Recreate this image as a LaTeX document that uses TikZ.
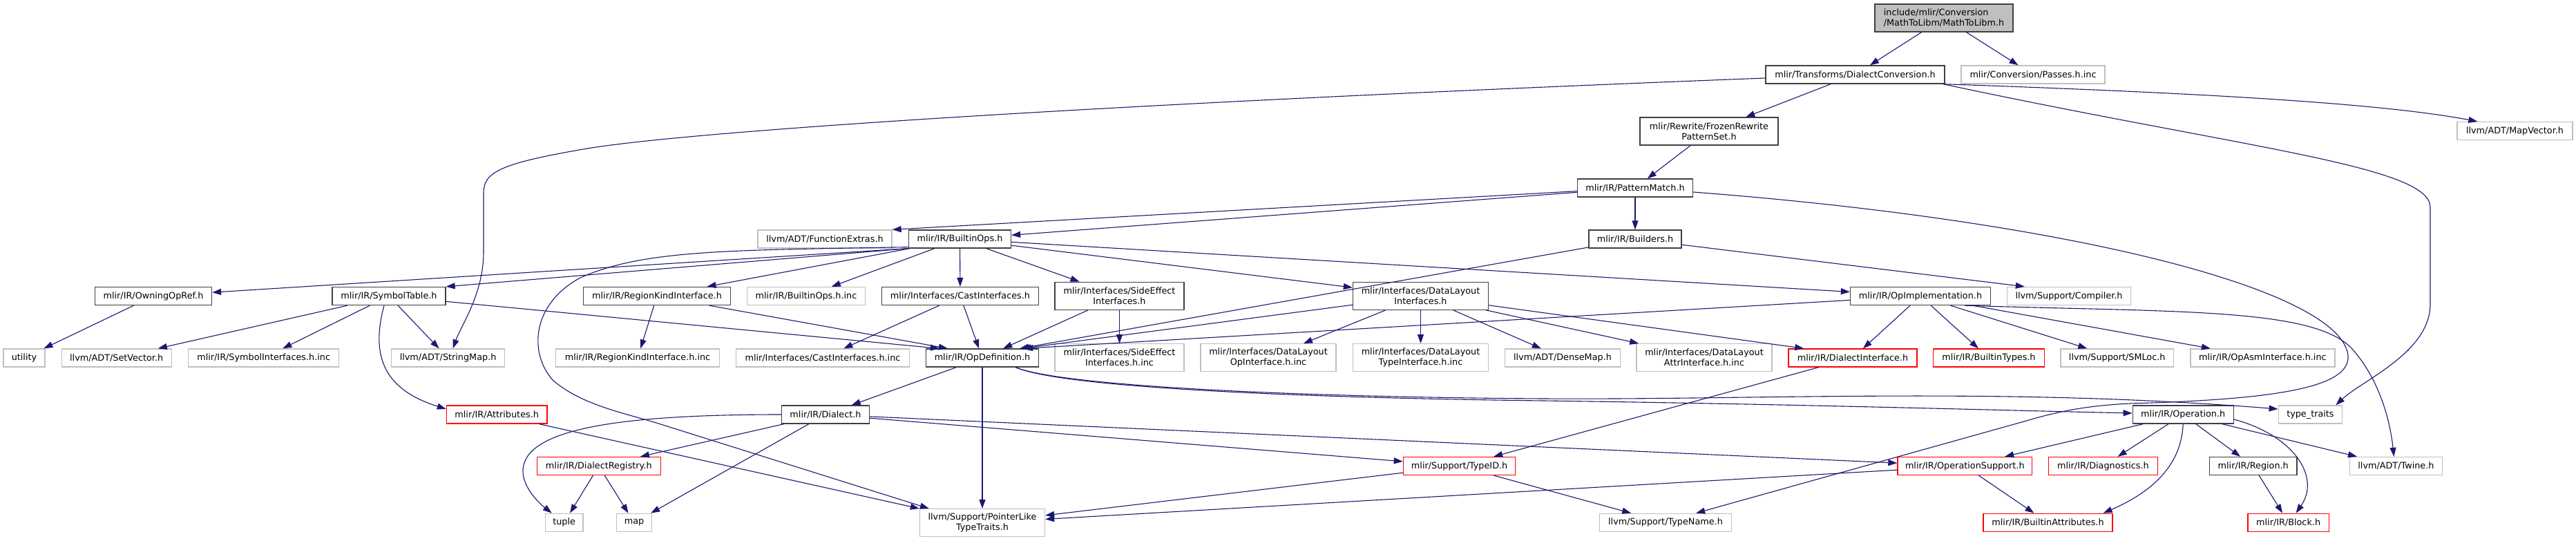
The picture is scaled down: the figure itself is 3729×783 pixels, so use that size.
\documentclass[tikz,border=0pt]{standalone}
\usepackage{fontspec}
\setmainfont{DejaVu Sans}
\usetikzlibrary{arrows.meta,calc}
\definecolor{edgecol}{HTML}{191970}
\definecolor{nbcol}{HTML}{404040}
\definecolor{gbcol}{HTML}{BFBFBF}
\definecolor{rbcol}{HTML}{FF0000}
\definecolor{rootfill}{HTML}{BFBFBF}
\newcommand{\nd}[7]{\node[#1,minimum width=#5pt,minimum height=#6pt] (#2) at (#3,#4) {#7};}
\begin{document}
\begin{tikzpicture}[x=1pt,y=-1pt,
  box/.style={draw,line width=1.3pt,fill=white,inner sep=0pt,align=center,font=\fontsize{12.8}{15}\selectfont,text=black},
  nb/.style={box,draw=nbcol},
  gb/.style={box,draw=gbcol},
  rb/.style={box,draw=rbcol},
  rootb/.style={box,draw=nbcol,fill=rootfill,align=left},
  e/.style={draw=edgecol,line width=1.1pt,-{Triangle[length=13pt,width=9pt]}}]
\useasboundingbox (0,0) rectangle (3729,783);
% nodes
\nd{rootb}{root}{2814}{26}{200}{40}{include/mlir/Conversion\\/MathToLibm/MathToLibm.h}
\nd{nb}{dc}{2685.5}{108}{259}{26}{mlir/Transforms/DialectConversion.h}
\nd{gb}{passes}{2943}{108}{208}{26}{mlir/Conversion/Passes.h.inc}
\nd{nb}{frozen}{2474}{190}{200}{40}{mlir/Rewrite/FrozenRewrite\\PatternSet.h}
\nd{gb}{mapvector}{3640.5}{189.5}{167}{26}{llvm/ADT/MapVector.h}
\nd{nb}{pm}{2367}{272}{167}{26}{mlir/IR/PatternMatch.h}
\nd{gb}{fe}{1194}{346}{194}{26}{llvm/ADT/FunctionExtras.h}
\nd{nb}{bops}{1389.5}{346}{148}{26}{mlir/IR/BuiltinOps.h}
\nd{nb}{builders}{2367}{346}{134}{26}{mlir/IR/Builders.h}
\nd{nb}{owning}{222}{428.5}{169}{26}{mlir/IR/OwningOpRef.h}
\nd{nb}{symtab}{563}{428.5}{164}{26}{mlir/IR/SymbolTable.h}
\nd{nb}{rki}{951}{428.5}{213}{26}{mlir/IR/RegionKindInterface.h}
\nd{gb}{bopsinc}{1167}{428.5}{171}{26}{mlir/IR/BuiltinOps.h.inc}
\nd{nb}{cast}{1390}{428.5}{226.5}{26}{mlir/Interfaces/CastInterfaces.h}
\nd{nb}{se}{1620.5}{428.3}{187}{40}{mlir/Interfaces/SideEffect\\Interfaces.h}
\nd{nb}{dl}{2056.5}{428.3}{196}{40}{mlir/Interfaces/DataLayout\\Interfaces.h}
\nd{nb}{opimpl}{2780}{428.5}{203}{26}{mlir/IR/OpImplementation.h}
\nd{gb}{compiler}{2995}{428.5}{179}{26}{llvm/Support/Compiler.h}
\nd{gb}{utility}{35}{518}{60}{26}{utility}
\nd{gb}{setvec}{168.7}{518}{159}{26}{llvm/ADT/SetVector.h}
\nd{gb}{syminc}{381.7}{518}{218}{26}{mlir/IR/SymbolInterfaces.h.inc}
\nd{gb}{strmap}{648.6}{518}{164}{26}{llvm/ADT/StringMap.h}
\nd{gb}{rkiinc}{923}{518}{237}{26}{mlir/IR/RegionKindInterface.h.inc}
\nd{gb}{castinc}{1191}{518}{251}{26}{mlir/Interfaces/CastInterfaces.h.inc}
\nd{nb}{opdef}{1422}{518}{163}{26}{mlir/IR/OpDefinition.h}
\nd{gb}{seinc}{1620.5}{517.7}{187}{40}{mlir/Interfaces/SideEffect\\Interfaces.h.inc}
\nd{gb}{dlop}{1836}{517.7}{196}{40}{mlir/Interfaces/DataLayout\\OpInterface.h.inc}
\nd{gb}{dltype}{2056.5}{517.7}{196}{40}{mlir/Interfaces/DataLayout\\TypeInterface.h.inc}
\nd{gb}{densemap}{2262}{518}{167}{26}{llvm/ADT/DenseMap.h}
\nd{gb}{dlattr}{2467}{517.7}{196}{40}{mlir/Interfaces/DataLayout\\AttrInterface.h.inc}
\nd{rb}{dialint}{2682}{518}{186}{26}{mlir/IR/DialectInterface.h}
\nd{rb}{btypes}{2879}{518}{160.5}{26}{mlir/IR/BuiltinTypes.h}
\nd{gb}{smloc}{3064.7}{518}{163.5}{26}{llvm/Support/SMLoc.h}
\nd{gb}{opasm}{3275.4}{518}{209}{26}{mlir/IR/OpAsmInterface.h.inc}
\nd{rb}{attrs}{719.2}{600}{145.5}{26}{mlir/IR/Attributes.h}
\nd{nb}{dialect}{1195}{600}{127}{26}{mlir/IR/Dialect.h}
\nd{nb}{operation}{3160.2}{600}{146}{26}{mlir/IR/Operation.h}
\nd{gb}{typetraits}{3344.4}{600}{92.4}{26}{type\_traits}
\nd{rb}{dreg}{866.8}{674.5}{179}{26}{mlir/IR/DialectRegistry.h}
\nd{rb}{typeid}{2112.6}{674.5}{162.4}{26}{mlir/Support/TypeID.h}
\nd{rb}{opsupport}{2844.3}{674.5}{194.7}{26}{mlir/IR/OperationSupport.h}
\nd{rb}{diag}{3044.4}{674.5}{158}{26}{mlir/IR/Diagnostics.h}
\nd{nb}{region}{3261.7}{674.5}{126.7}{26}{mlir/IR/Region.h}
\nd{gb}{twine}{3468.4}{674.5}{134.3}{26}{llvm/ADT/Twine.h}
\nd{gb}{tuple}{816.7}{756.3}{54.5}{26}{tuple}
\nd{gb}{map}{918}{756.3}{51}{26}{map}
\nd{gb}{pointer}{1422}{756.7}{181}{40}{llvm/Support/PointerLike\\TypeTraits.h}
\nd{gb}{typename}{2411}{756.3}{191}{26}{llvm/Support/TypeName.h}
\nd{rb}{battrs}{2964.5}{756.3}{187}{26}{mlir/IR/BuiltinAttributes.h}
\nd{rb}{block}{3312.6}{756.3}{117.3}{26}{mlir/IR/Block.h}
% edges
\draw[e] (root) -- (dc);
\draw[e] (root) -- (passes);
\draw[e] (dc) -- (frozen);
\draw[e] ($(dc.west)+(0,5)$) .. controls (1600,150) and (1000,190) .. (850,215) .. controls (720,237) and (700,250) .. (700,280) -- (700,365) .. controls (700,425) and (668,470) .. ($(strmap.north)+(7,0)$);
\draw[e] ($(dc.south east)+(-3,0)$) .. controls (3200,135) and (3450,150) .. ($(mapvector.north west)+(30,0)$);
\draw[e] ($(dc.south east)+(-3,0)$) .. controls (3250,215) and (3518,240) .. (3518,300) -- (3518,440) .. controls (3518,510) and (3420,550) .. ($(typetraits.north east)+(-10,0)$);
\draw[e] (frozen) -- (pm);
\draw[e] (pm) -- (builders);
\draw[e] (pm) -- (fe.north east);
\draw[e] (pm) -- (bops);
\draw[e] ($(pm.east)+(0,6)$) .. controls (3000,320) and (3390,420) .. (3399,515) .. controls (3402,560) and (3300,578) .. (3083,584) .. controls (3030,587) and (2990,592) .. (2930,610) -- ($(typename.north east)+(-52,0)$);
\draw[e] (builders) -- ($(opdef.north east)+(-28,0)$);
\draw[e] (builders) -- ($(compiler.north west)+(26,0)$);
\draw[e] (bops.south west) -- (owning);
\draw[e] (bops.south west) -- (symtab.north east);
\draw[e] ($(bops.south west)+(0,-2)$) .. controls (1050,362) and (930,362) .. (840,402) .. controls (770,440) and (765,510) .. (800,550) .. controls (840,585) and (900,597) .. (950,612) -- ($(pointer.north west)+(14,0)$);
\draw[e] (bops) -- (rki);
\draw[e] (bops) -- (bopsinc);
\draw[e] (bops) -- (cast);
\draw[e] (bops) -- (se);
\draw[e] (bops) -- (dl);
\draw[e] (bops) -- (opimpl);
\draw[e] (owning) -- (utility);
\draw[e] (symtab) -- (setvec);
\draw[e] (symtab) -- (syminc);
\draw[e] (symtab) -- (strmap);
\draw[e] ($(symtab.south)+(-7,0)$) .. controls (535,520) and (560,565) .. ($(attrs.west)+(0,-8)$);
\draw[e] (symtab) -- ($(opdef.north west)+(20,0)$);
\draw[e] (rki) -- (rkiinc);
\draw[e] (rki) -- ($(opdef.north west)+(32,0)$);
\draw[e] (cast) -- (castinc);
\draw[e] (cast) -- (opdef);
\draw[e] (se) -- (opdef);
\draw[e] (se) -- (seinc);
\draw[e] (dl) -- ($(opdef.north east)+(-25,0)$);
\draw[e] (dl) -- (dlop);
\draw[e] (dl) -- (dltype);
\draw[e] (dl) -- (densemap);
\draw[e] (dl) -- (dlattr);
\draw[e] (dl) -- ($(dialint.north west)+(23,0)$);
\draw[e] (opimpl) -- ($(opdef.north east)+(-22,0)$);
\draw[e] (opimpl) -- (dialint);
\draw[e] (opimpl) -- (btypes);
\draw[e] (opimpl) -- (smloc);
\draw[e] (opimpl) -- (opasm);
\draw[e] ($(opimpl.south east)+(-38,0)$) .. controls (3150,452) and (3350,445) .. (3405,505) .. controls (3445,550) and (3460,610) .. ($(twine.north)+(-3,0)$);
\draw[e] (opdef) -- (dialect);
\draw[e] (opdef) -- (pointer);
\draw[e] ($(opdef.south east)+(-34,0)$) .. controls (1540,560) and (1900,575) .. (2234,577) .. controls (2550,579) and (2900,560) .. ($(typetraits.west)+(0,-8)$);
\draw[e] ($(opdef.south east)+(-34,0)$) .. controls (1540,562) and (1900,576) .. (2234,580) .. controls (2600,585) and (2900,594) .. ($(operation.west)+(0,-2)$);
\draw[e] (dialect) -- (dreg);
\draw[e] (dialect) -- (map);
\draw[e] (dialect.west) .. controls (900,600) and (760,620) .. (757,680) .. controls (756,705) and (780,728) .. ($(tuple.north west)+(10,0)$);
\draw[e] (dialect) -- (typeid);
\draw[e] (dialect) -- (opsupport);
\draw[e] (dreg) -- (tuple);
\draw[e] (dreg) -- (map);
\draw[e] (attrs) -- (pointer.north west);
\draw[e] (typeid) -- (pointer);
\draw[e] (typeid) -- (typename);
\draw[e] (opsupport) -- (pointer);
\draw[e] (opsupport) -- (battrs);
\draw[e] (dialint) -- (typeid);
\draw[e] (operation) -- (opsupport);
\draw[e] (operation) -- (diag);
\draw[e] (operation) -- (region);
\draw[e] (operation) -- (twine);
\draw[e] (operation.south) .. controls (3158,670) and (3120,710) .. ($(battrs.north east)+(-14,0)$);
\draw[e] ($(operation.east)+(0,7)$) .. controls (3320,630) and (3360,690) .. ($(block.north)+(11,0)$);
\draw[e] (region) -- (block);
\end{tikzpicture}
\end{document}
